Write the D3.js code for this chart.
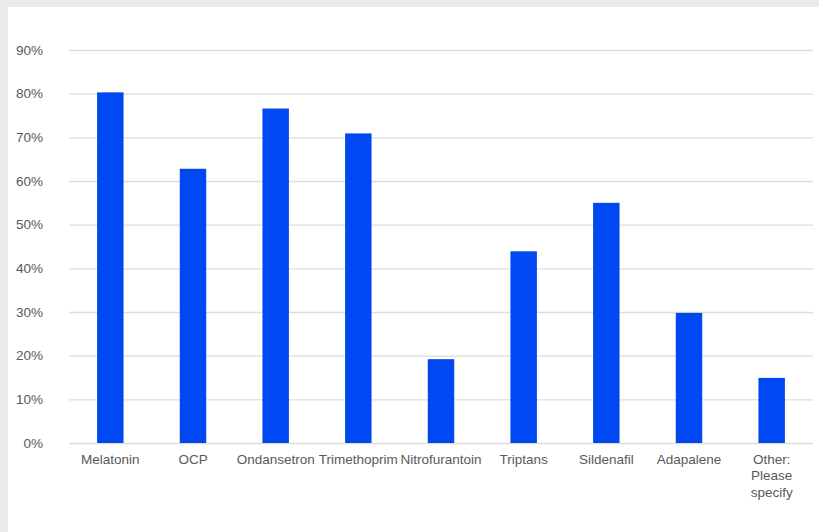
<!DOCTYPE html>
<html>
<head>
<meta charset="utf-8">
<script src="https://cdn.jsdelivr.net/npm/d3@7/dist/d3.min.js"></script>
<style>
  html, body { margin: 0; padding: 0; background: #ebebeb; }
  svg { display: block; }
</style>
</head>
<body>
<svg id="chart" width="819" height="532"></svg>
<script>
// Share of respondents per medicine
const categories = ["Melatonin", "OCP", "Ondansetron", "Trimethoprim", "Nitrofurantoin", "Triptans", "Sildenafil", "Adapalene", "Other: Please specify"];
const values = [80.3, 62.8, 76.6, 70.9, 19.2, 43.9, 55.0, 29.8, 14.9];
const yTicks = [0, 10, 20, 30, 40, 50, 60, 70, 80, 90];

const svg = d3.select("#chart");
const W = 819, H = 532;

// white panel over grey page
svg.append("rect").attr("x", 8).attr("y", 7).attr("width", W - 8).attr("height", H - 7).attr("fill", "#ffffff");

const margin = { left: 69, right: 6, top: 50, bottom: 89 };
const x = d3.scaleBand().domain(categories).range([margin.left, W - margin.right]).paddingInner(0.68).paddingOuter(0.34);
const y = d3.scaleLinear().domain([0, 90]).range([H - margin.bottom, margin.top]);

const font = "'Liberation Sans', Arial, sans-serif";
const textColor = "#595959";

// horizontal gridlines and y labels
const yAxis = d3.axisLeft(y).tickValues(yTicks).tickFormat(d => d + "%")
  .tickSize(-(W - margin.right - margin.left)).tickPadding(26);
const gy = svg.append("g").attr("transform", `translate(${margin.left},0)`).call(yAxis);
gy.select(".domain").remove();
gy.selectAll(".tick line").attr("stroke", "#dddddd").attr("stroke-width", 1.3);
gy.selectAll(".tick text").attr("fill", textColor).style("font-family", font).style("font-size", "13.5px");

// bars
svg.append("g").selectAll("rect").data(categories).join("rect")
  .attr("x", d => x(d))
  .attr("width", x.bandwidth())
  .attr("y", (d, i) => y(values[i]))
  .attr("height", (d, i) => y(0) - y(values[i]))
  .attr("fill", "#0048f2");

// category labels
const xAxis = d3.axisBottom(x).tickSize(0).tickPadding(11);
const gx = svg.append("g").attr("transform", `translate(0,${y(0)})`).call(xAxis);
gx.select(".domain").remove();
gx.selectAll(".tick text").attr("fill", textColor).style("font-family", font).style("font-size", "13.5px")
  .each(function(d) {
    if (d === "Other: Please specify") {
      const t = d3.select(this);
      t.text(null);
      ["Other:", "Please", "specify"].forEach((w, i) => {
        t.append("tspan").attr("x", 0).attr("dy", i === 0 ? "0.71em" : "1.23em").text(w);
      });
    }
  });
</script>
</body>
</html>
